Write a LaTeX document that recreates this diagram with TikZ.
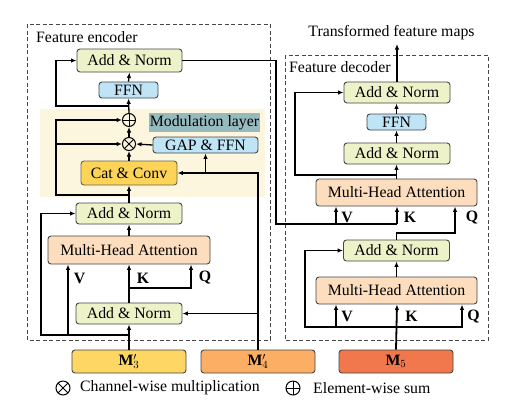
\documentclass[tikz,border=0pt]{standalone}
\usepackage{fontspec}
\setmainfont{Liberation Serif}
\usetikzlibrary{arrows.meta}
\definecolor{anfill}{RGB}{238,242,200}
\definecolor{ffnfill}{RGB}{190,228,246}
\definecolor{mhafill}{RGB}{252,222,190}
\definecolor{catfill}{RGB}{253,212,88}
\definecolor{modfill}{RGB}{150,186,190}
\definecolor{modbg}{RGB}{253,246,222}
\definecolor{mthree}{RGB}{253,214,100}
\definecolor{mfour}{RGB}{251,174,100}
\definecolor{mfive}{RGB}{240,120,76}
\definecolor{edge}{RGB}{70,70,70}
\tikzset{
  blk/.style={draw=edge, line width=0.9pt, rounded corners=3pt, inner sep=0pt, align=center},
  anbox/.style={blk, fill=anfill, minimum width=106pt, minimum height=22pt},
  ffnbox/.style={blk, fill=ffnfill, minimum width=59pt, minimum height=16pt},
  mhabox/.style={blk, fill=mhafill, minimum width=161pt, minimum height=27pt},
  inbox/.style={blk, fill=#1, minimum width=114pt, minimum height=23pt},
  conn/.style={line width=1.3pt, draw=black},
  arr/.style={conn, -{Latex[length=5.5pt,width=4.5pt]}},
  dbox/.style={draw=edge, line width=0.8pt, dash pattern=on 4pt off 2.5pt},
  opl/.style={circle, draw=black, line width=1pt, minimum size=13pt, inner sep=0pt,
    path picture={\draw[line width=1pt] (path picture bounding box.north)--(path picture bounding box.south)
      (path picture bounding box.west)--(path picture bounding box.east);}},
  otm/.style={circle, draw=black, line width=1pt, minimum size=13pt, inner sep=0pt,
    path picture={\draw[line width=1pt] (path picture bounding box.north west)--(path picture bounding box.south east)
      (path picture bounding box.south west)--(path picture bounding box.north east);}},
  lbl/.style={font=\fontsize{15.8}{18}\selectfont\bfseries, inner sep=0pt}
}
\begin{document}
\begin{tikzpicture}[x=1pt,y=-1pt,font=\fontsize{15.8}{18}\selectfont]
\useasboundingbox (0,0) rectangle (510,405);
\fill[white] (0,0) rectangle (510,405);
% backgrounds
\fill[modbg] (40,109) rectangle (265,197);
\draw[dbox] (27,24) rectangle (270,340);
\draw[dbox] (285,55) rectangle (488,340);
\node[anchor=west, inner sep=0pt] (enclbl) at (36,37) {Feature encoder};
\node[anchor=west, inner sep=0pt] (declbl) at (289,67) {Feature decoder};

% encoder nodes
\node[anbox, minimum height=23pt, minimum width=105pt] (eAN3) at (129.5,60.5) {Add \& Norm};
\node[ffnbox] (eFFN) at (128.5,90) {FFN};
\node[opl] (oplus) at (129,120) {};
\node[otm] (otimes) at (129,144) {};
\node[fill=modfill, minimum width=111pt, minimum height=19pt, inner sep=0pt] (modl) at (204.5,122.5) {Modulation layer};
\node[blk, fill=ffnfill, minimum width=105pt, minimum height=16pt] (gap) at (205.5,145) {GAP \& FFN};
\node[blk, fill=catfill, draw=edge!80!catfill, minimum width=96pt, minimum height=24pt] (cat) at (129,173) {Cat \& Conv};
\node[anbox, minimum height=21pt] (eAN2) at (129,213.5) {Add \& Norm};
\node[mhabox, minimum width=162pt, minimum height=28pt] (eMHA) at (129,250) {Multi-Head Attention};
\node[anbox, minimum height=21pt] (eAN1) at (129,313.5) {Add \& Norm};

% inputs
\node[inbox=mthree] (m3) at (129,361.5) {$\mathbf{M}'_3$};
\node[inbox=mfour] (m4) at (258,361.5) {$\mathbf{M}'_4$};
\node[inbox=mfive] (m5) at (396,361.5) {$\mathbf{M}_5$};

% decoder nodes
\node[anbox, minimum height=21pt] (dAN3) at (397,92.5) {Add \& Norm};
\node[ffnbox] (dFFN) at (396.5,122) {FFN};
\node[anbox, minimum height=21pt] (dAN2) at (397,153.5) {Add \& Norm};
\node[mhabox] (dMHA2) at (396.5,192.5) {Multi-Head Attention};
\node[anbox, minimum height=21pt] (dAN1) at (396.5,250.5) {Add \& Norm};
\node[mhabox] (dMHA1) at (396.5,290.5) {Multi-Head Attention};
\node[inner sep=0pt] (title) at (391.5,33) {Transformed feature maps};
\coordinate (outtop) at (397,44);

% ---------- encoder connectors ----------
\coordinate (e1) at (129,335);
\draw[arr] (m3.north) -- (eAN1.south);
\draw[arr] (e1) -- (68,335) -- (68,0 |- eMHA.south);
\draw[arr] (68,335) -- (41,335) -- (41,213.5) -- (eAN2.west);
\draw[arr] (eAN1.north) -- (eMHA.south);
\draw[arr] (129,288) -- (191,288) -- (191,0 |- eMHA.south);
\draw[arr] (eMHA.north) -- (eAN2.south);
\draw[arr] (eAN2.north) -- (cat.south);
\draw[arr] (129,195) -- (56,195) -- (56,120) -- (oplus.west);
\draw[arr] (56,144) -- (otimes.west);
\draw[arr] (cat.north) -- (otimes.south);
\draw[arr] (otimes.north) -- (oplus.south);
\draw[arr] (oplus.north) -- (eFFN.south);
\draw[arr] (129,106) -- (56,106) -- (56,60.5) -- (eAN3.west);
\draw[arr] (eFFN.north) -- (eAN3.south);
\draw[arr] (m4.north) -- (258,173) -- (cat.east);
\draw[arr] (205.5,173) -- (gap.south);
\draw[arr] (258,313.5) -- (eAN1.east);
\draw[arr] (gap.west) -- (otimes.east);
% encoder output to decoder
\draw[conn] (eAN3.east) -- (276,60.5) -- (276,224) -- (397,224);
\draw[arr] (336,224) -- (336,0 |- dMHA2.south);
\draw[arr] (397,224) -- (397,0 |- dMHA2.south);

% ---------- decoder connectors ----------
\draw[arr, line width=1.8pt] (m5.north) -- (397,0 |- dMHA1.south);
\draw[arr] (397,327) -- (336,327) -- (336,0 |- dMHA1.south);
\draw[arr] (336,327) -- (305,327) -- (305,250.5) -- (dAN1.west);
\draw[arr] (397,327) -- (462,327) -- (462,0 |- dMHA1.south);
\draw[arr] (dMHA1.north) -- (dAN1.south -| dMHA1.north);
\draw[arr] (dAN1.north) -- (396.5,233) -- (455,233) -- (455,0 |- dMHA2.south);
\draw[arr] (dMHA2.north) -- (dAN2.south -| dMHA2.north);
\draw[arr] (396.5,175) -- (295,175) -- (295,92.5) -- (dAN3.west);
\draw[arr] (dAN2.north -| dFFN.south) -- (dFFN.south);
\draw[arr] (dFFN.north) -- (dAN3.south -| dFFN.north);
\draw[arr] (dAN3.north) -- (outtop);

% labels V K Q
\node[lbl] (ev) at (79.5,278) {V};
\node[lbl] (ek) at (143,278) {K};
\node[lbl] (eq) at (205,278) {Q};
\node[lbl] (duv) at (347,217.5) {V};
\node[lbl] (duk) at (410,217.5) {K};
\node[lbl] (duq) at (472,217.5) {Q};
\node[lbl] (dlv) at (347,316.5) {V};
\node[lbl] (dlk) at (411.5,316.5) {K};
\node[lbl] (dlq) at (473.5,316.5) {Q};

% legend
\node[otm, minimum size=14pt] (legx) at (63,388) {};
\node[anchor=west, inner sep=0pt] (legxt) at (80,388) {Channel-wise multiplication};
\node[opl, minimum size=14pt] (legp) at (293,388) {};
\node[anchor=west, inner sep=0pt] (legpt) at (313,388) {Element-wise sum};
\end{tikzpicture}
\end{document}
